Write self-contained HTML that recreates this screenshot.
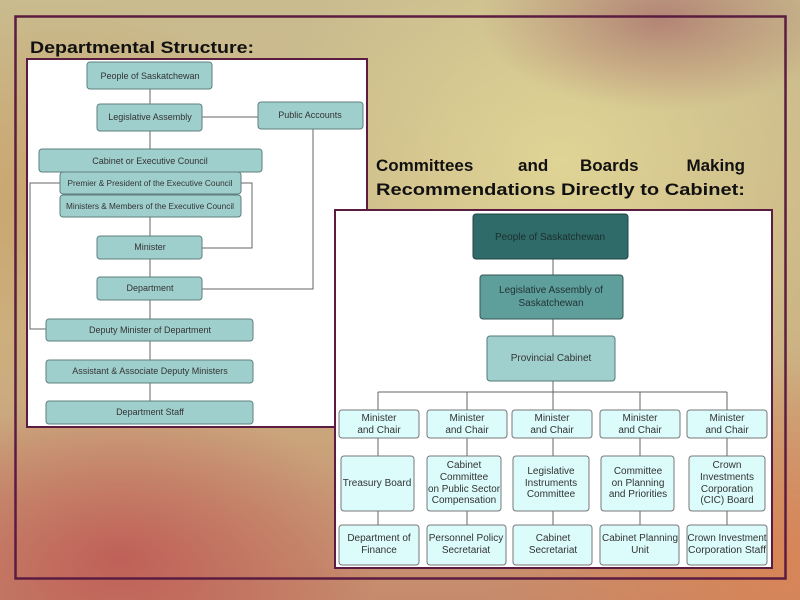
<!DOCTYPE html>
<html><head><meta charset="utf-8"><style>
html,body{margin:0;padding:0}
body{width:800px;height:600px;overflow:hidden;position:relative;font-family:"Liberation Sans",sans-serif;
background:
radial-gradient(ellipse 260px 160px at 120px 560px, rgba(190,80,80,0.75), rgba(190,80,80,0) 100%),
radial-gradient(ellipse 300px 200px at 780px 560px, rgba(220,130,80,0.8), rgba(220,130,80,0) 100%),
radial-gradient(ellipse 180px 90px at 660px 20px, rgba(150,70,90,0.5), rgba(150,70,90,0) 100%),
radial-gradient(ellipse 300px 250px at 560px 160px, rgba(225,215,150,0.9), rgba(225,215,150,0) 100%),
radial-gradient(ellipse 250px 200px at 60px 200px, rgba(200,150,90,0.6), rgba(200,150,90,0) 100%),
linear-gradient(180deg,#c9bb8e 0%,#cdb585 55%,#c58a6c 100%);}
svg{position:absolute;left:0;top:0}
</style></head><body>
<svg width="800" height="600" viewBox="0 0 800 600" font-family="Liberation Sans, sans-serif">
<rect x="15.5" y="16.5" width="770" height="562" fill="none" stroke="#5a1c40" stroke-width="2.5"/>
<text x="30" y="53" font-size="17" font-weight="bold" fill="#111" textLength="224" lengthAdjust="spacingAndGlyphs">Departmental Structure:</text>
<text font-size="17" font-weight="bold" fill="#111">
<tspan x="376" y="171">Committees</tspan><tspan x="518" y="171">and</tspan><tspan x="580" y="171">Boards</tspan><tspan x="745" y="171" text-anchor="end">Making</tspan></text>
<text x="376" y="195" font-size="17" font-weight="bold" fill="#111" textLength="369" lengthAdjust="spacingAndGlyphs">Recommendations Directly to Cabinet:</text>

<!-- left panel -->
<rect x="27" y="59" width="340" height="368" fill="#fff" stroke="#5a1c40" stroke-width="2"/>
<g stroke="#666" stroke-width="1" fill="none">
<line x1="150" y1="89" x2="150" y2="401"/>
<line x1="202" y1="117" x2="258" y2="117"/>
<polyline points="60,183 30,183 30,329 46,329"/>
<polyline points="241,183 252,183 252,248 202,248"/>
<polyline points="313,129 313,289 202,289"/>
</g>
<g fill="#9fcfcc" stroke="#5e7f7e" stroke-width="1">
<rect x="87" y="62" width="125" height="27" rx="3"/>
<rect x="97" y="104" width="105" height="27" rx="3"/>
<rect x="258" y="102" width="105" height="27" rx="3"/>
<rect x="39" y="149" width="223" height="23" rx="3"/>
<rect x="60" y="172" width="181" height="22" rx="3"/>
<rect x="60" y="195" width="181" height="22" rx="3"/>
<rect x="97" y="236" width="105" height="23" rx="3"/>
<rect x="97" y="277" width="105" height="23" rx="3"/>
<rect x="46" y="319" width="207" height="22" rx="3"/>
<rect x="46" y="360" width="207" height="23" rx="3"/>
<rect x="46" y="401" width="207" height="23" rx="3"/>
</g>
<g font-size="9" fill="#333" text-anchor="middle">
<text x="150" y="79">People of Saskatchewan</text>
<text x="150" y="120">Legislative Assembly</text>
<text x="310" y="118">Public Accounts</text>
<text x="150" y="164">Cabinet or Executive Council</text>
<text x="150" y="186" font-size="8" textLength="165" lengthAdjust="spacingAndGlyphs">Premier &amp; President of the Executive Council</text>
<text x="150" y="209" font-size="8" textLength="168" lengthAdjust="spacingAndGlyphs">Ministers &amp; Members of the Executive Council</text>
<text x="150" y="250">Minister</text>
<text x="150" y="291">Department</text>
<text x="150" y="333">Deputy Minister of Department</text>
<text x="150" y="374">Assistant &amp; Associate Deputy Ministers</text>
<text x="150" y="415">Department Staff</text>
</g>

<!-- right panel -->
<rect x="335" y="210" width="437" height="358" fill="#fff" stroke="#5a1c40" stroke-width="2"/>
<g stroke="#666" stroke-width="1" fill="none">
<line x1="553" y1="259" x2="553" y2="392"/>
<line x1="378" y1="392" x2="727" y2="392"/>
<line x1="378" y1="392" x2="378" y2="525"/>
<line x1="467" y1="392" x2="467" y2="525"/>
<line x1="553" y1="392" x2="553" y2="525"/>
<line x1="640" y1="392" x2="640" y2="525"/>
<line x1="727" y1="392" x2="727" y2="525"/>
</g>
<rect x="473" y="214" width="155" height="45" rx="3" fill="#2f6b68" stroke="#244" />
<rect x="480" y="275" width="143" height="44" rx="3" fill="#5e9e9b" stroke="#355"/>
<rect x="487" y="336" width="128" height="45" rx="3" fill="#9fd0ce" stroke="#577"/>
<g fill="#dcfbfb" stroke="#777" stroke-width="1">
<rect x="339" y="410" width="80" height="28" rx="3"/><rect x="427" y="410" width="80" height="28" rx="3"/><rect x="512" y="410" width="80" height="28" rx="3"/><rect x="600" y="410" width="80" height="28" rx="3"/><rect x="687" y="410" width="80" height="28" rx="3"/>
<rect x="341" y="456" width="73" height="55" rx="3"/><rect x="427" y="456" width="74" height="55" rx="3"/><rect x="513" y="456" width="76" height="55" rx="3"/><rect x="601" y="456" width="73" height="55" rx="3"/><rect x="689" y="456" width="76" height="55" rx="3"/>
<rect x="339" y="525" width="80" height="40" rx="3"/><rect x="427" y="525" width="79" height="40" rx="3"/><rect x="513" y="525" width="79" height="40" rx="3"/><rect x="600" y="525" width="79" height="40" rx="3"/><rect x="687" y="525" width="80" height="40" rx="3"/>
</g>
<g font-size="10" fill="#333" text-anchor="middle">
<text x="550" y="240" fill="#1c2f2e">People of Saskatchewan</text>
<text x="551" y="293" fill="#1f3333">Legislative Assembly of</text><text x="551" y="306" fill="#1f3333">Saskatchewan</text>
<text x="551" y="361">Provincial Cabinet</text>
<g>
<text x="379" y="421">Minister</text><text x="379" y="433">and Chair</text>
<text x="467" y="421">Minister</text><text x="467" y="433">and Chair</text>
<text x="552" y="421">Minister</text><text x="552" y="433">and Chair</text>
<text x="640" y="421">Minister</text><text x="640" y="433">and Chair</text>
<text x="727" y="421">Minister</text><text x="727" y="433">and Chair</text>
</g>
<text x="377" y="486">Treasury Board</text>
<text x="464" y="468">Cabinet</text><text x="464" y="480">Committee</text><text x="464" y="492" textLength="72" lengthAdjust="spacingAndGlyphs">on Public Sector</text><text x="464" y="503">Compensation</text>
<text x="551" y="474">Legislative</text><text x="551" y="486">Instruments</text><text x="551" y="497">Committee</text>
<text x="638" y="474">Committee</text><text x="638" y="486">on Planning</text><text x="638" y="497">and Priorities</text>
<text x="727" y="468">Crown</text><text x="727" y="480">Investments</text><text x="727" y="492">Corporation</text><text x="727" y="503">(CIC) Board</text>
<text x="379" y="541">Department of</text><text x="379" y="553">Finance</text>
<text x="466" y="541">Personnel Policy</text><text x="466" y="553">Secretariat</text>
<text x="553" y="541">Cabinet</text><text x="553" y="553">Secretariat</text>
<text x="640" y="541" textLength="76" lengthAdjust="spacingAndGlyphs">Cabinet Planning</text><text x="640" y="553">Unit</text>
<text x="727" y="541" textLength="79" lengthAdjust="spacingAndGlyphs">Crown Investment</text><text x="727" y="553" textLength="78" lengthAdjust="spacingAndGlyphs">Corporation Staff</text>
</g>
</svg>
</body></html>
